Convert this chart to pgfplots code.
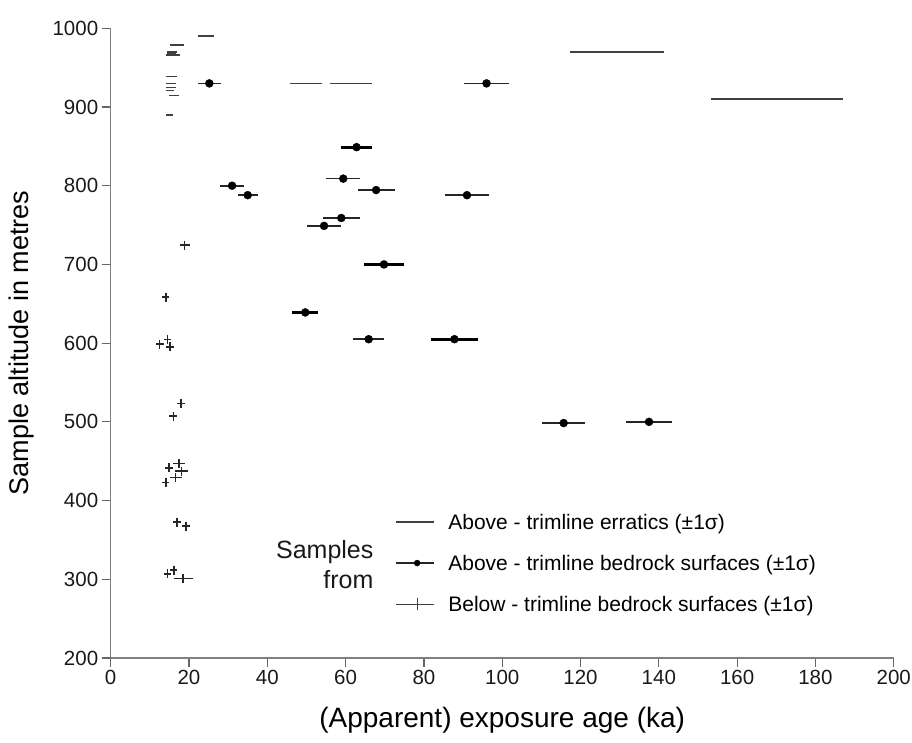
\documentclass[border=0pt]{standalone}
\usepackage{pgfplots}
\pgfplotsset{compat=1.18}
\usepackage{pgfplotstable}
\usepackage{fontspec}
\setmainfont{Liberation Sans}

\pgfplotstableread{
x y e
24.3 990 2.0
16.9 979 1.8
15.7 970 1.2
15.6 968 1.2
16.0 966 1.8
15.6 939 1.4
15.4 930 1.2
15.4 925 1.2
15.2 921 1.0
16.2 915 1.3
15.0 890 1.0
49.9 930 4.1
61.3 930 5.4
129.3 970 12.1
170.2 910 16.8
}\erratics

\pgfplotstableread{
x y e
25.2 930 3.0
31.0 800 3.0
35.0 788 2.5
96.0 930 5.7
59.4 809 4.4
67.8 794.5 4.7
91.0 788 5.7
58.9 759 4.8
54.5 749 4.4
65.9 605 4.0
115.7 498.5 5.5
137.5 500 5.8
}\bedrock

\pgfplotstableread{
x y e
62.8 849 4.0
69.8 700 5.0
49.7 639 3.3
87.8 605 6.0
}\bedrockthick

\pgfplotstableread{
x y e
18.9 724.6 1.3
14.1 658.6 0.9
14.5 604.8 1.0
12.5 598.8 1.0
15.2 595.4 1.0
18.0 523.4 1.0
16.0 507.3 1.0
17.4 447.3 1.6
14.9 441.7 1.0
18.1 437.5 1.6
16.6 429.4 1.5
14.1 423.0 0.9
16.9 372.7 1.0
19.2 367.6 1.0
16.1 311.7 0.9
14.5 307.0 1.0
18.5 301.1 2.4
}\below

\begin{document}
\begin{tikzpicture}
\begin{axis}[
  scale only axis, width=783pt, height=629.7pt,
  xmin=0, xmax=200, ymin=200, ymax=1000,
  axis x line*=bottom, axis y line*=left,
  axis line style={black!50, line width=1.6pt},
  tick align=outside, major tick length=9pt,
  tick style={black!60, line width=1.2pt},
  xtick={0,20,...,200}, ytick={200,300,...,1000},
  minor tick num=0,
  ticklabel style={font=\fontsize{20.5}{24}\selectfont, text=black!90},
  /pgf/number format/assume math mode=true,
  /pgf/number format/1000 sep={},
  xlabel={(Apparent) exposure age (ka)},
  ylabel={Sample altitude in metres},
  xlabel style={at={(axis description cs:0.5,-0.0985)}, anchor=center, font=\fontsize{28}{30}\selectfont},
  ylabel style={at={(axis description cs:-0.1133,0.5)}, anchor=center, font=\fontsize{27}{30}\selectfont},
  clip=false,
  legend cell align=left,
  legend style={draw=none, fill=none, inner sep=0pt, at={(axis cs:72.7,320.6)}, anchor=west,
    row sep=26pt, font=\fontsize{21}{24}\selectfont,
    nodes={inner sep=0pt, text height=15pt, text depth=0pt}},
]
\addplot[only marks, mark=*, mark size=0pt, mark options={draw=none, fill=none},
  legend image code/.code={\draw[black!75, line width=1.3pt] (0pt,0pt) -- (38pt,0pt); \path (52pt,0pt);},
  error bars/.cd, x dir=both, x explicit, error mark=none,
  error bar style={black!75, line width=1.4pt}]
  table[x=x, y=y, x error=e] {\erratics};
\addlegendentry{Above - trimline erratics (\textpm1σ)}

\addplot[only marks, mark=*, mark size=4pt, black,
  legend image code/.code={\draw[black!85, line width=1.3pt] (0pt,0pt) -- (38pt,0pt); \fill[black] (21pt,0pt) circle (3pt); \path (52pt,0pt);},
  error bars/.cd, x dir=both, x explicit, error mark=none,
  error bar style={black!85, line width=1.6pt}]
  table[x=x, y=y, x error=e] {\bedrock};
\addlegendentry{Above - trimline bedrock surfaces (\textpm1σ)}

\addplot[only marks, mark=|, mark size=4.5pt, black!85, mark options={line width=1.6pt},
  legend image code/.code={\draw[black!75, line width=1.1pt] (0pt,0pt) -- (38pt,0pt); \draw[black!75, line width=1.1pt] (21pt,-6pt) -- (21pt,6pt); \path (52pt,0pt);},
  error bars/.cd, x dir=both, x explicit, error mark=none,
  error bar style={black!85, line width=1.5pt}]
  table[x=x, y=y, x error=e] {\below};
\addlegendentry{Below - trimline bedrock surfaces (\textpm1σ)}

\addplot[forget plot, only marks, mark=*, mark size=4pt, black,
  error bars/.cd, x dir=both, x explicit, error mark=none,
  error bar style={black, line width=2.8pt}]
  table[x=x, y=y, x error=e] {\bedrockthick};

\node[anchor=east, align=right, font=\fontsize{25}{30}\selectfont, text=black!90] at (axis cs:68.0,319.3) {Samples\\from};
\end{axis}
\pgfresetboundingbox
\path[use as bounding box] (-110.7pt,-84pt) rectangle (801.3pt,658pt);
\end{tikzpicture}
\end{document}
